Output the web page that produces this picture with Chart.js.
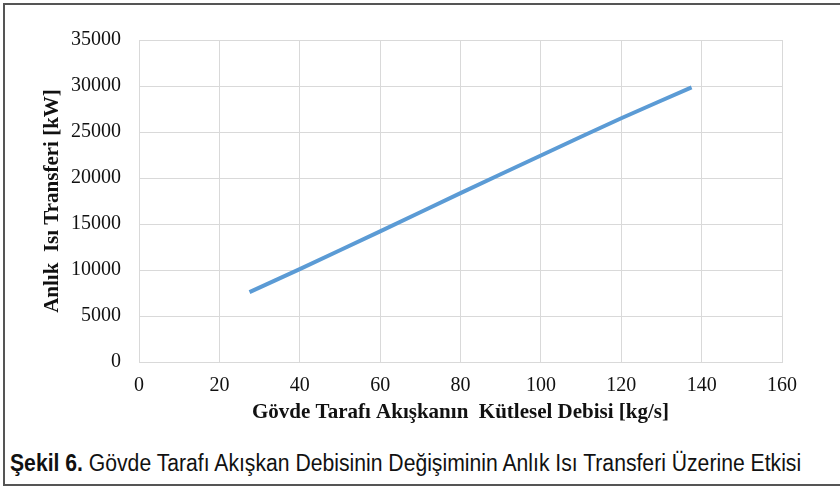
<!DOCTYPE html>
<html>
<head>
<meta charset="utf-8">
<script src="https://cdn.jsdelivr.net/npm/chart.js@4"></script>
<style>
  html, body { margin: 0; padding: 0; background: #fff; }
  #frame {
    position: absolute; left: 3px; top: 3px; width: 840px; height: 483px;
    border-left: 2px solid #555; border-top: 2px solid #555; border-bottom: 2px solid #555;
    box-sizing: border-box;
  }
  #wrap { position: absolute; left: 0; top: 0; width: 840px; height: 440px; }
  #caption {
    position: absolute; left: 10px; top: 450px;
    font-family: "Liberation Sans Narrow", "Arial Narrow", "Liberation Sans", sans-serif;
    font-size: 23px; color: #111; white-space: nowrap;
    transform: scaleX(0.92); transform-origin: left top;
  }
</style>
</head>
<body>
<div id="frame"></div>
<div id="wrap"><canvas id="chart"></canvas></div>
<div id="caption"><b>Şekil 6.</b> Gövde Tarafı Akışkan Debisinin Değişiminin Anlık Isı Transferi Üzerine Etkisi</div>
<script>
// Gövde tarafı debi [kg/s] ve anlık ısı transferi [kW]
const massFlow     = [27.5, 40, 60, 80, 100, 120, 137.5];
const heatTransfer = [7600, 10100, 14200, 18350, 22450, 26500, 29850];

const lineColor = '#5b9bd5';
const gridColor = '#d9d9d9';
const serif = '"Liberation Serif", "Times New Roman", serif';

new Chart(document.getElementById('chart').getContext('2d'), {
    type: 'scatter',
    data: {
        datasets: [{
            data: massFlow.map((x, i) => ({ x, y: heatTransfer[i] })),
            showLine: true,
            borderColor: lineColor,
            borderWidth: 4,
            pointRadius: 0,
            tension: 0.2,
            fill: false
        }]
    },
    options: {
        responsive: true,
        maintainAspectRatio: false,
        animation: false,
        layout: { padding: { top: 40, right: 58, left: 40, bottom: 15 } },
        plugins: {
            legend: { display: false },
            tooltip: { enabled: false }
        },
        scales: {
            x: {
                type: 'linear',
                min: 0, max: 160,
                ticks: { stepSize: 20, color: '#111', padding: 12, font: { family: serif, size: 20 } },
                grid: { color: gridColor, drawTicks: false },
                border: { color: gridColor },
                title: {
                    display: true,
                    text: 'Gövde Tarafı Akışkanın  Kütlesel Debisi [kg/s]',
                    color: '#111',
                    font: { family: serif, size: 21, weight: 'bold' },
                    padding: 0
                },
                afterFit: s => { s.height = 63; }
            },
            y: {
                min: 0, max: 35000,
                ticks: {
                    stepSize: 5000, color: '#111', padding: 18,
                    font: { family: serif, size: 20 },
                    callback: v => String(v)
                },
                grid: { color: gridColor, drawTicks: false },
                border: { color: gridColor },
                title: {
                    display: true,
                    text: 'Anlık  Isı Transferi [kW]',
                    color: '#111',
                    font: { family: serif, size: 21, weight: 'bold' },
                    padding: 0
                },
                afterFit: s => { s.width = 99; }
            }
        }
    }
});
</script>
</body>
</html>
